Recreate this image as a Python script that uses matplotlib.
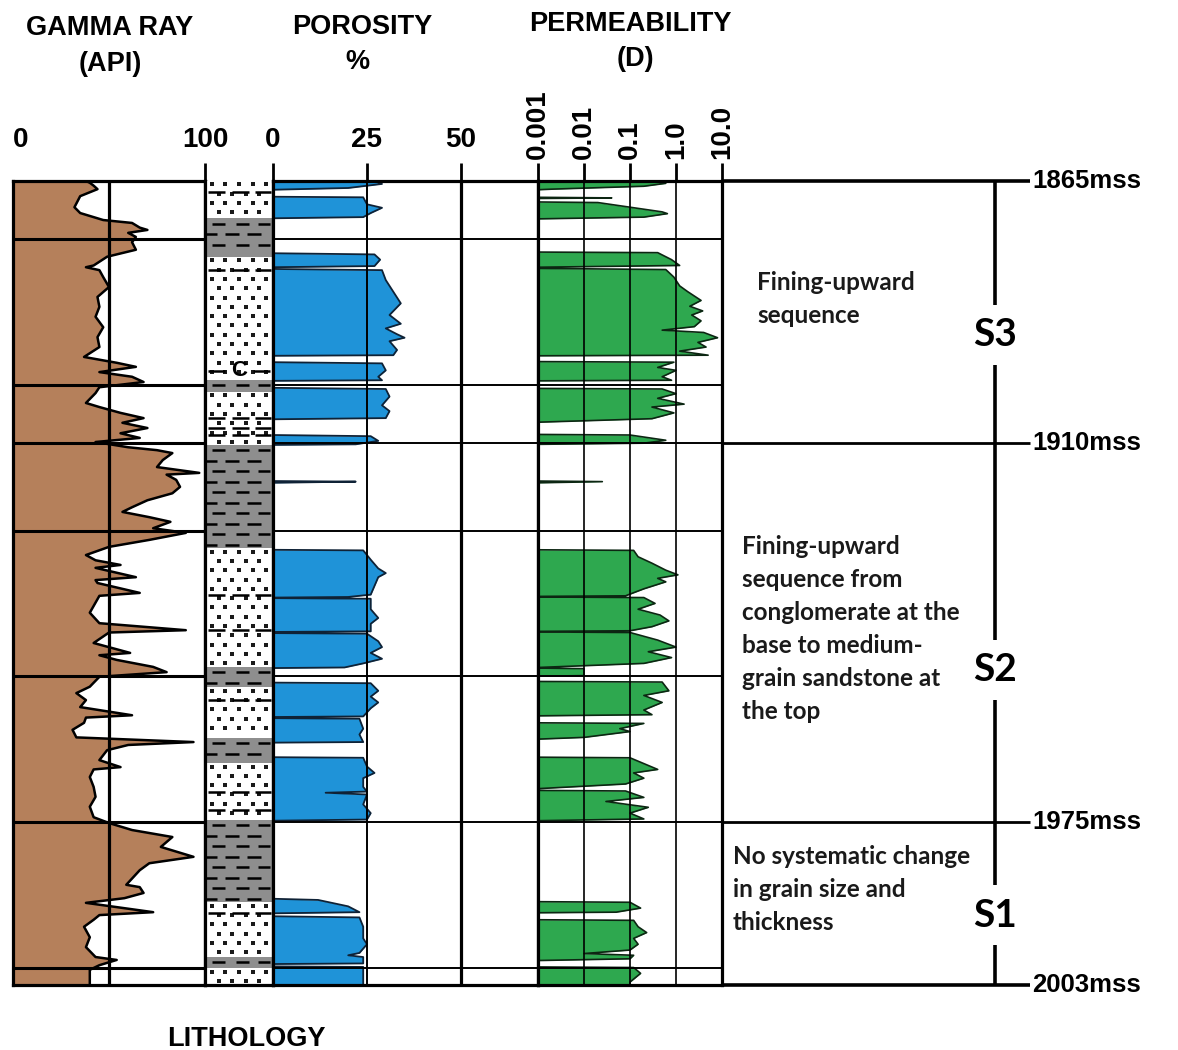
import numpy as np
import matplotlib.pyplot as plt

plt.rcParams['font.family'] = ['Liberation Sans', 'DejaVu Sans']

W, H = 1178, 1050
DEPTH_TOP, DEPTH_BASE = 1865, 2003

# gamma ray log (depth m, API)
gr_depth = [1865.0, 1865.3, 1865.8, 1866.4, 1867.6, 1869.5, 1870.5, 1871.7, 1872.2, 1873.0,
            1873.4, 1873.9, 1874.6, 1875.5, 1876.8, 1878.0, 1879.5, 1879.8, 1880.3, 1881.5,
            1883.2, 1884.9, 1886.6, 1888.3, 1890.1, 1891.8, 1893.5, 1895.2, 1896.2, 1896.9,
            1897.8, 1898.6, 1899.5, 1900.4, 1901.4, 1903.1, 1903.8, 1904.8, 1905.7, 1906.5,
            1907.4, 1908.3, 1909.1, 1909.8, 1910.7, 1911.2, 1911.7, 1912.9, 1914.1, 1915.1,
            1915.4, 1916.3, 1917.5, 1918.6, 1919.8, 1921.0, 1921.8, 1922.7, 1923.5, 1924.6,
            1925.4, 1926.6, 1927.8, 1929.2, 1930.1, 1930.9, 1931.4, 1933.0, 1933.5, 1934.0,
            1935.7, 1936.2, 1939.1, 1940.9, 1942.1, 1942.5, 1944.3, 1946.0, 1946.4, 1947.2,
            1948.4, 1949.3, 1950.1, 1951.8, 1952.9, 1954.1, 1955.3, 1956.7, 1957.1, 1958.0,
            1959.2, 1960.5, 1961.3, 1961.8, 1962.7, 1964.4, 1965.6, 1966.0, 1967.3, 1969.0,
            1970.7, 1972.4, 1974.2, 1975.2, 1976.4, 1977.6, 1979.3, 1981.0, 1982.1, 1983.3,
            1985.8, 1986.2, 1987.2, 1988.1, 1988.9, 1990.5, 1991.0, 1991.8, 1993.0, 1994.8,
            1996.5, 1998.2, 1998.7, 1999.6, 2000.4, 2003.0]
gr_api = [38, 40, 42, 44, 35, 32, 35, 47, 62, 66,
          70, 60, 64, 62, 64, 49, 42, 38, 45, 47,
          50, 44, 45, 43, 47, 44, 45, 37, 54, 64,
          45, 62, 68, 45, 43, 38, 45, 56, 68, 57,
          70, 56, 66, 43, 60, 75, 83, 78, 75, 97,
          80, 85, 87, 83, 70, 62, 57, 71, 82, 73,
          90, 71, 50, 38, 43, 56, 43, 64, 43, 44,
          66, 45, 40, 45, 90, 50, 42, 61, 45, 54,
          73, 80, 45, 40, 33, 38, 35, 62, 38, 37,
          31, 33, 94, 60, 49, 45, 56, 42, 40, 42,
          43, 40, 42, 50, 62, 83, 77, 94, 71, 66,
          59, 66, 68, 58, 38, 73, 45, 42, 37, 40,
          38, 43, 54, 45, 40, 40]

# porosity (depth m, %)
phi_depth = [1865.0, 1865.5, 1866.2, 1866.5,
             1867.7, 1867.8, 1869.0, 1869.6, 1870.5, 1871.2, 1871.4,
             1877.4, 1877.6, 1878.5, 1879.6, 1879.8,
             1880.1, 1880.3, 1882.0, 1884.0, 1886.0, 1888.0, 1889.5, 1890.3, 1891.3, 1891.9, 1892.5, 1894.0, 1894.9, 1895.0,
             1896.1, 1896.3, 1897.5, 1898.6, 1899.2, 1899.3,
             1900.5, 1900.7, 1902.0, 1903.5, 1904.5, 1905.7, 1905.9,
             1908.6, 1908.8, 1909.6, 1910.2, 1910.3,
             1916.5, 1916.6, 1916.8,
             1928.3, 1928.4, 1930.0, 1931.5, 1932.3, 1933.0, 1934.5, 1936.0, 1936.4, 1936.5,
             1936.6, 1936.7, 1938.5, 1940.0, 1941.0, 1942.3, 1942.4,
             1942.6, 1942.7, 1944.0, 1945.0, 1946.0, 1947.0, 1947.8, 1948.5, 1948.6,
             1951.1, 1951.2, 1952.5, 1953.5, 1954.5, 1955.5, 1956.9, 1957.0,
             1957.2, 1957.3, 1959.0, 1960.0, 1961.3, 1961.4,
             1963.9, 1964.0, 1965.5, 1966.6, 1967.5, 1969.0, 1969.8, 1970.0, 1970.3, 1972.0, 1973.5, 1974.6, 1974.8,
             1988.2, 1988.4, 1989.5, 1990.5, 1990.7,
             1991.2, 1991.4, 1993.0, 1995.0, 1996.0, 1997.5, 1997.9, 1998.2, 1999.3, 1999.4,
             1999.8, 1999.9, 2003.0]
phi_pct = [27, 29, 20, 0,
           0, 24, 25, 29, 26, 24, 0,
           0, 27, 28.5, 27, 0,
           0, 29, 30, 32, 34, 31, 34, 30, 33, 35, 31, 33, 32, 0,
           0, 29, 30, 28, 29, 0,
           0, 30, 31, 29, 31, 30, 0,
           0, 26, 28, 22, 0,
           0, 22, 0,
           0, 24, 26, 28, 30, 28, 27, 26, 20, 0,
           0, 26, 26, 28, 26, 26, 0,
           0, 25, 28, 29, 26, 29, 24, 19, 0,
           0, 26, 28, 26, 28, 26, 24, 0,
           0, 23, 24, 23, 24, 0,
           0, 24, 25, 27, 24, 24, 25, 14, 25, 24, 26, 25, 0,
           0, 12, 20, 23, 0,
           0, 23, 24, 24, 25, 23, 20, 24, 24, 0,
           0, 24, 24]

# permeability (depth m, darcy)
perm_depth = [1865.0, 1865.4, 1865.9, 1866.4, 1866.5,
              1867.8, 1867.9, 1868.0,
              1868.6, 1868.7, 1869.5, 1870.3, 1870.6, 1871.2, 1871.5,
              1877.2, 1877.3, 1878.5, 1879.5, 1879.8,
              1880.0, 1880.2, 1881.5, 1883.0, 1884.0, 1885.5, 1886.5, 1887.3, 1888.0, 1889.0,
              1890.0, 1890.6, 1891.0, 1891.9, 1892.7, 1893.5, 1894.2, 1894.9, 1895.0,
              1896.0, 1896.1, 1897.0, 1897.5, 1898.6, 1899.2, 1899.3,
              1900.6, 1900.7, 1901.5, 1902.3, 1903.3, 1903.8, 1904.8, 1905.8, 1906.4,
              1908.5, 1908.6, 1909.5, 1910.0, 1910.2,
              1916.5, 1916.6, 1916.8,
              1928.3, 1928.4, 1929.5, 1930.6, 1931.8, 1932.6, 1933.2, 1933.8, 1935.0, 1936.2, 1936.3,
              1936.4, 1936.5, 1937.5, 1938.5, 1939.5, 1940.5, 1941.5, 1942.2, 1942.3,
              1942.4, 1942.5, 1943.8, 1945.0, 1945.8, 1946.8, 1947.8, 1948.5,
              1948.6, 1948.7, 1949.9, 1950.0,
              1950.9, 1951.0, 1952.5, 1953.3, 1954.5, 1955.8, 1956.6, 1956.8,
              1958.0, 1958.1, 1959.0, 1959.5, 1960.5, 1960.8,
              1963.9, 1964.0, 1965.0, 1966.0, 1966.6, 1967.5, 1968.5, 1969.3,
              1969.6, 1969.7, 1970.8, 1971.5, 1972.5, 1973.5, 1974.5, 1974.8,
              1988.7, 1988.8, 1989.8, 1990.5, 1990.6,
              1991.8, 1991.9, 1993.0, 1994.0, 1995.0, 1996.0, 1997.0, 1997.6, 1997.9, 1998.5, 1998.8,
              1999.9, 2000.0, 2001.0, 2002.5, 2003.0]
perm_darcy = [0.3, 0.6, 0.2, 0.002, 0.001,
              0.001, 0.04, 0.001,
              0.001, 0.02, 0.1, 0.5, 0.65, 0.2, 0.001,
              0.001, 0.4, 0.8, 1.2, 0.001,
              0.001, 0.6, 0.9, 1.2, 1.8, 3.5, 2.0, 3.8, 2.2, 3.5,
              2.5, 0.5, 4.0, 8.0, 3.0, 4.5, 1.2, 5.0, 0.001,
              0.001, 0.9, 0.4, 1.0, 0.5, 0.8, 0.001,
              0.001, 0.5, 1.0, 0.4, 1.5, 0.3, 0.9, 0.3, 0.001,
              0.001, 0.1, 0.6, 0.2, 0.001,
              0.001, 0.025, 0.001,
              0.001, 0.12, 0.15, 0.3, 0.6, 1.1, 0.4, 0.6, 0.2, 0.08, 0.001,
              0.001, 0.2, 0.35, 0.15, 0.45, 0.7, 0.3, 0.1, 0.001,
              0.001, 0.1, 0.4, 1.0, 0.25, 0.8, 0.2, 0.001,
              0.001, 0.01, 0.01, 0.001,
              0.001, 0.5, 0.7, 0.2, 0.5, 0.2, 0.3, 0.001,
              0.001, 0.2, 0.06, 0.1, 0.01, 0.001,
              0.001, 0.1, 0.2, 0.4, 0.12, 0.2, 0.08, 0.001,
              0.001, 0.08, 0.2, 0.03, 0.25, 0.1, 0.2, 0.001,
              0.001, 0.1, 0.17, 0.05, 0.001,
              0.001, 0.12, 0.15, 0.23, 0.12, 0.15, 0.1, 0.01, 0.12, 0.1, 0.001,
              0.001, 0.12, 0.17, 0.1, 0.1]

# lithology column
litho_top = [1865.0, 1871.4, 1878.0, 1899.2, 1901.2, 1910.3, 1928.0, 1948.4,
             1951.9, 1960.6, 1964.9, 1974.7, 1988.8, 1998.2, 2000.1]
litho_base = [1871.4, 1878.0, 1899.2, 1901.2, 1910.3, 1928.0, 1948.4, 1951.9,
              1960.6, 1964.9, 1974.7, 1988.8, 1998.2, 2000.1, 2003.0]
litho_kind = ['sand', 'shale', 'sand', 'shale', 'sand', 'shale', 'sand', 'shale',
              'sand', 'shale', 'sand', 'shale', 'sand', 'shale', 'sand']
lamina_depth = [1866.9, 1880.3, 1905.7, 1907.4, 1908.6, 1936.1, 1942.1,
                1954.0, 1969.9, 1973.0, 1990.6]
conglomerate_depth = 1897.6

grid_depths = [1875, 1900, 1910, 1925, 1950, 1975, 2000]
boundary_depths = [1865, 1910, 1975, 2003]
boundary_labels = ['1865mss', '1910mss', '1975mss', '2003mss']

seq_names = ['S3', 'S2', 'S1']
seq_depth = [1891.4, 1948.9, 1991.0]
notes = ['Fining-upward\nsequence',
         'Fining-upward\nsequence from\nconglomerate at the\nbase to medium-\ngrain sandstone at\nthe top',
         'No systematic change\nin grain size and\nthickness']
note_depth = [1880.4, 1925.7, 1979.0]
note_x = [0.077, 0.044, 0.024]

gr_ticks = [0, 100]
phi_ticks = [0, 25, 50]
perm_ticks = [0.001, 0.01, 0.1, 1.0, 10.0]
perm_labels = ['0.001', '0.01', '0.1', '1.0', '10.0']

BROWN = '#b5805b'
BLUE = '#1f93d8'
GREEN = '#2ea84f'
GRAY = '#8e8e8e'

fig = plt.figure(figsize=(W / 100, H / 100), dpi=100)


def track(x0, x1, y0=181, y1=985):
    ax = fig.add_axes([x0 / W, 1 - y1 / H, (x1 - x0) / W, (y1 - y0) / H])
    ax.set_ylim(DEPTH_BASE, DEPTH_TOP)
    ax.set_yticks([])
    for s in ax.spines.values():
        s.set_linewidth(2.3)
    return ax


def top_ticks(ax, ticks, labels, rot=0, pad=7):
    ax.xaxis.tick_top()
    ax.set_xticks(ticks, labels, fontsize=20, fontweight='bold', rotation=rot)
    ax.tick_params(axis='x', which='major', direction='out', length=13, width=2, pad=pad)
    ax.tick_params(axis='x', which='minor', length=0)


# gamma ray
ax_gr = track(13, 205)
ax_gr.fill_betweenx(gr_depth, 0, gr_api, color=BROWN, lw=0)
ax_gr.plot(gr_api, gr_depth, color='black', lw=1.8)
ax_gr.set_xlim(0, 100)
ax_gr.axvline(50, color='black', lw=2.3)
for d in grid_depths:
    ax_gr.axhline(d, color='black', lw=2.2)
top_ticks(ax_gr, gr_ticks, ['0', '100'])
ax_gr.xaxis.get_major_ticks()[0].tick2line.set_visible(False)
ax_gr.get_xticklabels()[0].set_horizontalalignment('left')

# lithology
ax_li = track(205, 273)
ax_li.set_xlim(0, 1)
ax_li.set_xticks([])
ax_li.spines['top'].set_visible(False)
row_a = [(0.10, 0.30), (0.45, 0.65), (0.78, 0.95)]
row_b = [(0.02, 0.18), (0.30, 0.50), (0.62, 0.82)]
for top, base, kind in zip(litho_top, litho_base, litho_kind):
    if kind == 'shale':
        ax_li.axhspan(top, base, color=GRAY, lw=0)
        rows = np.arange(top + 0.9, base - 0.4, 1.8)
        for k, y in enumerate(rows):
            for a, b in (row_a if k % 2 == 0 else row_b):
                ax_li.hlines(y, a, b, color='black', lw=1.8)
    else:
        rows = np.arange(top + 0.6, base - 0.2, 1.6)
        for k, y in enumerate(rows):
            xs = np.arange(0.1, 0.95, 0.2) + (0.1 if k % 2 else 0.0)
            xs = xs[xs < 0.97]
            ax_li.scatter(xs, np.full(len(xs), y), s=5, marker='s', color='#1a1a1a', lw=0)
for y in lamina_depth:
    for a, b in [(0.04, 0.30), (0.40, 0.64), (0.74, 0.97)]:
        ax_li.hlines(y, a, b, color='black', lw=1.8)
ax_li.hlines(conglomerate_depth, 0.05, 0.3, color='black', lw=1.8)
ax_li.hlines(conglomerate_depth, 0.7, 0.95, color='black', lw=1.8)
ax_li.text(0.5, conglomerate_depth, 'C', ha='center', va='center', fontsize=16,
           fontweight='bold')

# porosity
ax_phi = track(273, 538)
ax_phi.fill_betweenx(phi_depth, 0, phi_pct, color=BLUE, lw=0)
ax_phi.plot(phi_pct, phi_depth, color='#0f2236', lw=1.3)
ax_phi.set_xlim(0, 70.5)
ax_phi.axvline(25, color='black', lw=1.4)
ax_phi.axvline(50, color='black', lw=2.3)
for d in grid_depths:
    ax_phi.axhline(d, color='black', lw=1.4)
top_ticks(ax_phi, phi_ticks, ['0', '25', '50'])

# permeability
ax_k = track(538, 722)
ax_k.set_xscale('log')
ax_k.fill_betweenx(perm_depth, 0.001, perm_darcy, color=GREEN, lw=0)
ax_k.plot(perm_darcy, perm_depth, color='#0c2612', lw=1.2)
ax_k.set_xlim(0.001, 10)
for v in perm_ticks[1:-1]:
    ax_k.axvline(v, color='black', lw=1.2)
for d in grid_depths:
    ax_k.axhline(d, color='black', lw=1.4)
top_ticks(ax_k, perm_ticks, perm_labels, rot=90, pad=3)

# sequence annotation panel
ax_seq = fig.add_axes([722 / W, 1 - 985 / H, (W - 722) / W, 804 / H])
ax_seq.set_ylim(DEPTH_BASE, DEPTH_TOP)
ax_seq.set_xlim(0, 1)
ax_seq.axis('off')

# sequence bar, broken where each sequence name sits
bar_x = 0.599
gap = 5.2
edges = [DEPTH_TOP]
for d in seq_depth:
    edges += [d - gap, d + gap]
edges.append(DEPTH_BASE)
for a, b in zip(edges[::2], edges[1::2]):
    ax_seq.vlines(bar_x, a, b, color='black', lw=2.6)

for d, lab in zip(boundary_depths, boundary_labels):
    lw = 2.6 if d in (DEPTH_TOP, DEPTH_BASE) else 2.0
    ax_seq.hlines(d, 0, 0.675, color='black', lw=lw, clip_on=False)
    ax_seq.text(0.68, d, lab, ha='left', va='center', fontsize=18.5, fontweight='bold',
                clip_on=False)
for name, d in zip(seq_names, seq_depth):
    ax_seq.text(bar_x, d, name, ha='center', va='center', fontsize=28, fontweight='bold',
                family=['Lato', 'DejaVu Sans'])
for txt, d, x in zip(notes, note_depth, note_x):
    ax_seq.text(x, d, txt, ha='left', va='top', fontsize=17.5, fontweight='bold',
                family=['Lato', 'DejaVu Sans'], linespacing=1.53, color='#1a1a1a')

# headers
fig.text(110 / W, 1 - 28 / H, 'GAMMA RAY', ha='center', va='center', fontsize=19.5, fontweight='bold')
fig.text(110 / W, 1 - 64 / H, '(API)', ha='center', va='center', fontsize=19.5, fontweight='bold')
fig.text(362 / W, 1 - 27 / H, 'POROSITY', ha='center', va='center', fontsize=19.5, fontweight='bold')
fig.text(357 / W, 1 - 62 / H, '%', ha='center', va='center', fontsize=19.5, fontweight='bold')
fig.text(630 / W, 1 - 24 / H, 'PERMEABILITY', ha='center', va='center', fontsize=19.5, fontweight='bold')
fig.text(635 / W, 1 - 59 / H, '(D)', ha='center', va='center', fontsize=19.5, fontweight='bold')
fig.text(246 / W, 1 - 1039 / H, 'LITHOLOGY', ha='center', va='center', fontsize=19.5, fontweight='bold')

fig.savefig('out.png', dpi=100, facecolor='white')
